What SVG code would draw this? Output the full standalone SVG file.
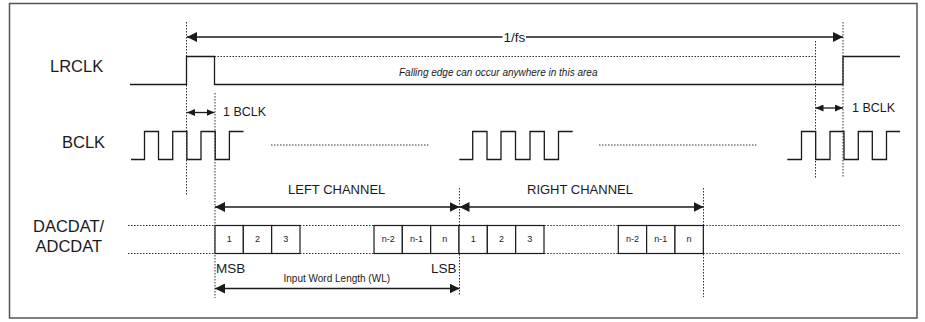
<svg xmlns="http://www.w3.org/2000/svg" width="925" height="322" viewBox="0 0 925 322">
<style>
.frame{fill:none;stroke:#555;stroke-width:1.5}
.wave{fill:none;stroke:#1a1a1a;stroke-width:1.3}
.dot{fill:none;stroke:#333;stroke-width:1;stroke-dasharray:1.5 1.5}
.arr{fill:none;stroke:#1a1a1a;stroke-width:1.3}
.box{fill:#fff;stroke:#1a1a1a;stroke-width:1.2}
text{font-family:"Liberation Sans",Arial,sans-serif;fill:#1a1a1a}
.lbl{font-size:16.5px}
.mid{font-size:13px}
.sm{font-size:12.5px}
.it{font-size:10px;font-style:italic}
.tiny{font-size:9px;text-anchor:middle}
</style>
<defs>
<marker id="ah" viewBox="0 0 10 10" refX="10" refY="5" markerWidth="10" markerHeight="10" markerUnits="userSpaceOnUse" orient="auto-start-reverse"><path d="M0,0 L10,5 L0,10 z" fill="#1a1a1a"/></marker>
<marker id="as" viewBox="0 0 8 7" refX="8" refY="3.5" markerWidth="8" markerHeight="7" markerUnits="userSpaceOnUse" orient="auto-start-reverse"><path d="M0,0 L8,3.5 L0,7 z" fill="#1a1a1a"/></marker>
</defs>
<rect class="frame" x="9.5" y="3.5" width="907.5" height="314.5"/>

<g id="guides">
<line class="dot" x1="186.5" y1="22" x2="186.5" y2="195"/>
<line class="dot" x1="215" y1="93" x2="215" y2="298"/>
<line class="dot" x1="815.5" y1="41" x2="815.5" y2="178"/>
<line class="dot" x1="843" y1="22" x2="843" y2="178"/>
<line class="dot" x1="459.5" y1="188" x2="459.5" y2="296"/>
<line class="dot" x1="703.5" y1="188" x2="703.5" y2="297"/>
</g>

<g id="lrclk">
<text class="lbl" x="50" y="72">LRCLK</text>
<path class="wave" d="M130,84.5 H186.5 V56.5 H214.5 V84.5 H843 V56.5 H900"/>
<line class="dot" x1="214.5" y1="56.5" x2="815" y2="56.5"/>
<text class="it" x="399" y="76">Falling edge can occur anywhere in this area</text>
</g>

<g id="bclk">
<text class="lbl" x="62" y="148">BCLK</text>
<path class="wave" d="M131,159.5 H144.5 V131.5 H158.5 V159.5 H172.7 V131.5 H186.9 V159.5 H201 V131.5 H215.2 V159.5 H229.4 V131.5 H243.5"/>
<path class="wave" d="M459.3,159.5 H472.7 V131.5 H487 V159.5 H501 V131.5 H515.5 V159.5 H530 V131.5 H544.3 V159.5 H558.5 V131.5 H572.7"/>
<path class="wave" d="M787.3,159.5 H801.5 V131.5 H815.7 V159.5 H830 V131.5 H844 V159.5 H858.3 V131.5 H872.3 V159.5 H886.5 V131.5 H900"/>
<line class="dot" x1="271" y1="145" x2="430" y2="145"/>
<line class="dot" x1="599" y1="145" x2="758" y2="145"/>
</g>

<g id="data">
<text class="lbl" x="33" y="232">DACDAT/</text>
<text class="lbl" x="35.5" y="252">ADCDAT</text>
<g class="dot">
<line x1="128" y1="225.5" x2="215" y2="225.5"/><line x1="128" y1="253.5" x2="215" y2="253.5"/>
<line x1="300" y1="225.5" x2="374" y2="225.5"/><line x1="300" y1="253.5" x2="374" y2="253.5"/>
<line x1="544.3" y1="225.5" x2="618.3" y2="225.5"/><line x1="544.3" y1="253.5" x2="618.3" y2="253.5"/>
<line x1="703.3" y1="225.5" x2="900" y2="225.5"/><line x1="703.3" y1="253.5" x2="900" y2="253.5"/>
</g>
<g id="bits">
<rect class="box" x="215" y="225.5" width="28.33" height="28"/>
<rect class="box" x="243.33" y="225.5" width="28.33" height="28"/>
<rect class="box" x="271.67" y="225.5" width="28.33" height="28"/>
<rect class="box" x="374" y="225.5" width="28.33" height="28"/>
<rect class="box" x="402.33" y="225.5" width="28.33" height="28"/>
<rect class="box" x="430.67" y="225.5" width="28.33" height="28"/>
<rect class="box" x="459" y="225.5" width="28.33" height="28"/>
<rect class="box" x="487.33" y="225.5" width="28.33" height="28"/>
<rect class="box" x="515.67" y="225.5" width="28.33" height="28"/>
<rect class="box" x="618.3" y="225.5" width="28.33" height="28"/>
<rect class="box" x="646.63" y="225.5" width="28.33" height="28"/>
<rect class="box" x="674.97" y="225.5" width="28.33" height="28"/>
<text class="tiny" x="229.2" y="242">1</text>
<text class="tiny" x="257.5" y="242">2</text>
<text class="tiny" x="285.8" y="242">3</text>
<text class="tiny" x="388.2" y="242">n-2</text>
<text class="tiny" x="416.5" y="242">n-1</text>
<text class="tiny" x="444.8" y="242">n</text>
<text class="tiny" x="473.2" y="242">1</text>
<text class="tiny" x="501.5" y="242">2</text>
<text class="tiny" x="529.8" y="242">3</text>
<text class="tiny" x="632.5" y="242">n-2</text>
<text class="tiny" x="660.8" y="242">n-1</text>
<text class="tiny" x="689.1" y="242">n</text>
</g>
<text class="mid" x="216" y="273" style="font-size:13.5px">MSB</text>
<text class="mid" x="431" y="273" style="font-size:13.5px">LSB</text>
<text x="283.5" y="281.5" style="font-size:10px">Input Word Length (WL)</text>
</g>

<g id="connectors">
<line class="arr" x1="187" y1="37" x2="502.5" y2="37" marker-start="url(#ah)"/>
<line class="arr" x1="526" y1="37" x2="843" y2="37" marker-end="url(#ah)"/>
<line class="arr" x1="187" y1="112.5" x2="214.5" y2="112.5" marker-start="url(#as)" marker-end="url(#as)"/>
<line class="arr" x1="815.5" y1="108" x2="843" y2="108" marker-start="url(#as)" marker-end="url(#as)"/>
<line class="arr" x1="215" y1="207" x2="459.5" y2="207" marker-start="url(#ah)" marker-end="url(#ah)"/>
<line class="arr" x1="459.5" y1="207" x2="703.5" y2="207" marker-start="url(#ah)" marker-end="url(#ah)"/>
<line class="arr" x1="215" y1="288.5" x2="459.5" y2="288.5" marker-start="url(#ah)" marker-end="url(#ah)"/>
</g>

<g id="labels">
<text class="sm" x="503.5" y="41.5" style="font-size:13.5px">1/fs</text>
<text class="sm" x="223" y="116">1 BCLK</text>
<text class="sm" x="852" y="112">1 BCLK</text>
<text class="mid" x="288" y="193.5">LEFT CHANNEL</text>
<text class="mid" x="527" y="193.5">RIGHT CHANNEL</text>
</g>
</svg>
